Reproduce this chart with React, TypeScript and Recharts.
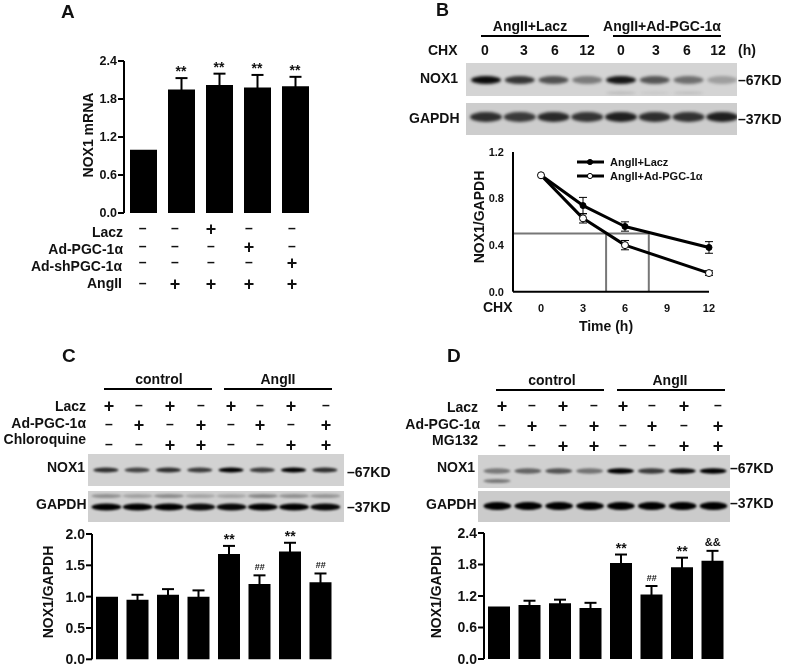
import React from "react";
import { ComposedChart, Bar, Line, XAxis, YAxis, ErrorBar, LabelList, ReferenceLine, BarChart } from "recharts";

const FONT = '"Liberation Sans", Arial, sans-serif';

// Panel A
const aGroups = ["1", "2", "3", "4", "5"];
const aValues = [1.0, 1.95, 2.02, 1.98, 2.0];
const aErrors = [0, 0.18, 0.18, 0.2, 0.15];
const aMarks = [null, "**", "**", "**", "**"];
const aTicks = [0, 0.6, 1.2, 1.8, 2.4];
const aRowLabels = ["Lacz", "Ad-PGC-1α", "Ad-shPGC-1α", "AngII"];
const aSigns = ["--+--", "---+-", "----+", "-++++"];

// Panel B
const bHours = [0, 3, 6, 12];
const bLacz = [1.0, 0.74, 0.56, 0.38];
const bLaczErr = [0, 0.07, 0.04, 0.05];
const bAd = [1.0, 0.63, 0.4, 0.16];
const bAdErr = [0, 0.04, 0.04, 0.02];
const bXTicks = [0, 3, 6, 9, 12];
const bYTicks = [0, 0.4, 0.8, 1.2];
const bHalfLevel = 0.5;
const bHalfLives = [4.65, 7.7];
const bLaneLabels = ["0", "3", "6", "12", "0", "3", "6", "12"];
const bNox = [0.95, 0.75, 0.62, 0.42, 0.9, 0.6, 0.48, 0.25];
const bNoxLower = [0, 0, 0, 0, 0.12, 0.06, 0.1, 0];
const bGapdh = [0.78, 0.72, 0.8, 0.75, 0.85, 0.78, 0.76, 0.85];

// Panel C
const cValues = [1.0, 0.95, 1.03, 1.0, 1.68, 1.2, 1.72, 1.23];
const cErrors = [0, 0.08, 0.09, 0.1, 0.13, 0.14, 0.14, 0.14];
const cMarks = [null, null, null, null, "**", "##", "**", "##"];
const cTicks = [0, 0.5, 1.0, 1.5, 2.0];
const cRowLabels = ["Lacz", "Ad-PGC-1α", "Chloroquine"];
const cSigns = ["+-+-+-+-", "-+-+-+-+", "--++--++"];
const cNox = [0.78, 0.68, 0.78, 0.72, 1, 0.72, 1, 0.78];
const cGapdh = [1, 1, 1, 0.95, 0.97, 1, 1, 0.97];
const cGapdhUpper = [0.3, 0.22, 0.32, 0.2, 0.2, 0.35, 0.3, 0.28];

// Panel D
const dValues = [1.0, 1.03, 1.06, 0.97, 1.83, 1.23, 1.75, 1.87];
const dErrors = [0, 0.08, 0.07, 0.1, 0.16, 0.16, 0.18, 0.19];
const dMarks = [null, null, null, null, "**", "##", "**", "&&"];
const dTicks = [0, 0.6, 1.2, 1.8, 2.4];
const dRowLabels = ["Lacz", "Ad-PGC-1α", "MG132"];
const dSigns = cSigns;
const dNox = [0.42, 0.52, 0.6, 0.45, 1, 0.72, 0.95, 1];
const dNoxLower = [0.42, 0, 0, 0, 0, 0, 0, 0];
const dGapdh = [1, 1, 1, 1, 1, 1, 1, 1];

const table = (vals: number[], errs: number[], marks: (string | null)[]) =>
  vals.map((value, i) => ({
    name: String(i),
    value,
    err: errs[i],
    top: marks[i] ? value + errs[i] : null,
    mark: marks[i],
  }));

const lineData = bHours.map((hour, i) => ({
  hour,
  lacz: bLacz[i],
  laczErr: bLaczErr[i],
  ad: bAd[i],
  adErr: bAdErr[i],
}));

const markStyle: Record<string, { size: number; lift: number }> = {
  "**": { size: 14, lift: 2 },
  "##": { size: 9, lift: 5 },
  "&&": { size: 11, lift: 5 },
};

const renderMark = (p: any) => {
  const st = markStyle[p.value];
  if (!st) return null;
  return (
    <text
      x={p.x + (p.width || 0) / 2}
      y={p.y - st.lift}
      textAnchor="middle"
      fill="#111"
      fontSize={st.size}
      fontWeight={700}
      fontFamily={FONT}
    >
      {p.value}
    </text>
  );
};

function BarPanel({ left, top, plotW, plotH, yMax, ticks, data, barSize, fontSize, tickFmt }: any) {
  const yw = 44;
  return (
    <div style={{ position: "absolute", left: left - yw, top: top - 10 }}>
      <ComposedChart
        width={yw + plotW + 2}
        height={plotH + 22}
        data={data}
        margin={{ top: 10, right: 2, bottom: 12, left: 0 }}
      >
        <XAxis dataKey="name" height={0} tick={false} tickLine={false} axisLine={{ stroke: "#000", strokeWidth: 2 }} />
        <YAxis
          width={yw}
          domain={[0, yMax]}
          ticks={ticks}
          interval={0}
          tickFormatter={tickFmt}
          tickSize={6}
          tickMargin={1}
          axisLine={{ stroke: "#000", strokeWidth: 2 }}
          tickLine={{ stroke: "#000", strokeWidth: 2 }}
          tick={{ fill: "#111", fontSize, fontWeight: 700, fontFamily: FONT }}
        />
        <Bar dataKey="value" fill="#000" barSize={barSize} isAnimationActive={false}>
          <ErrorBar dataKey="err" direction="y" width={6} stroke="#000" strokeWidth={2} isAnimationActive={false} />
        </Bar>
        <Line dataKey="top" stroke="none" dot={false} activeDot={false} isAnimationActive={false} legendType="none">
          <LabelList dataKey="mark" content={renderMark} />
        </Line>
      </ComposedChart>
    </div>
  );
}

function Blot({ left, top, w, h, bg, marginL, marginR, cy, ry, barW, blur = 1.2, strength, second, secondCy, secondRy }: any) {
  const data = strength.map((s: number, i: number) => ({ lane: String(i), s, t: second ? second[i] : 0 }));
  const shape = (p: any) => (
    <g style={{ filter: `blur(${blur}px)` }}>
      <ellipse cx={p.x + p.width / 2} cy={cy} rx={p.width / 2} ry={ry} fill={`rgba(0,0,0,${p.payload.s})`} />
      {p.payload.t > 0 && (
        <ellipse cx={p.x + p.width / 2} cy={secondCy} rx={p.width / 2} ry={secondRy || 2} fill={`rgba(0,0,0,${p.payload.t})`} />
      )}
    </g>
  );
  return (
    <div style={{ position: "absolute", left, top, width: w, height: h, background: bg, overflow: "hidden" }}>
      <BarChart width={w} height={h} data={data} margin={{ top: 0, right: marginR, bottom: 0, left: marginL }}>
        <XAxis dataKey="lane" hide />
        <YAxis hide domain={[0, 1]} />
        <Bar dataKey="s" barSize={barW} shape={shape} isAnimationActive={false} />
      </BarChart>
    </div>
  );
}

const T = ({ x, y, s = 14, a = "start", rot, children, w = 700 }: any) => (
  <text
    x={x}
    y={y}
    fontSize={s}
    fontWeight={w}
    textAnchor={a}
    fill="#111"
    fontFamily={FONT}
    transform={rot ? `rotate(${rot} ${x} ${y})` : undefined}
  >
    {children}
  </text>
);

const L = ({ x1, x2, y }: any) => <line x1={x1} x2={x2} y1={y} y2={y} stroke="#000" strokeWidth={2} />;

function Signs({ rows, cols, ys }: { rows: string[]; cols: number[]; ys: number[] }) {
  return (
    <>
      {rows.map((row, r) =>
        row.split("").map((c, i) =>
          c === "+" ? (
            <T key={`${r}-${i}`} x={cols[i]} y={ys[r] + 6} s={18} a="middle">+</T>
          ) : (
            <T key={`${r}-${i}`} x={cols[i]} y={ys[r] + 4} s={14} a="middle">–</T>
          )
        )
      )}
    </>
  );
}

function LineSwatch({ y, fill }: { y: number; fill: string }) {
  return (
    <>
      <line x1={577} x2={604} y1={y} y2={y} stroke="#000" strokeWidth={3} />
      <circle cx={590} cy={y} r={2.6} fill={fill} stroke="#000" strokeWidth={1} />
    </>
  );
}

export default function App() {
  const fmt = (v: number) => v.toFixed(1);
  return (
    <div
      style={{
        position: "absolute",
        left: 0,
        top: 0,
        width: 785,
        height: 667,
        background: "#fff",
        overflow: "hidden",
        filter: "blur(0.35px)",
      }}
    >
      <BarPanel left={123.5} top={61} plotW={190} plotH={152} yMax={2.4} ticks={aTicks}
        data={table(aValues, aErrors, aMarks)} barSize={27} fontSize={12.5} tickFmt={fmt} />
      <BarPanel left={91.7} top={534} plotW={244} plotH={125.3} yMax={2} ticks={cTicks}
        data={table(cValues, cErrors, cMarks)} barSize={22} fontSize={14} tickFmt={fmt} />
      <BarPanel left={484} top={533.3} plotW={244} plotH={126} yMax={2.4} ticks={dTicks}
        data={table(dValues, dErrors, dMarks)} barSize={22} fontSize={14} tickFmt={fmt} />

      {/* Panel B line chart */}
      <div style={{ position: "absolute", left: 513 - 34, top: 152.3 - 10 }}>
        <ComposedChart
          width={34 + 196 + 12}
          height={139.7 + 10 + 26}
          data={lineData}
          margin={{ top: 10, right: 12, bottom: 0, left: 0 }}
        >
          <XAxis
            dataKey="hour"
            type="number"
            domain={[-2, 12]}
            ticks={bXTicks}
            interval={0}
            height={26}
            tickLine={false}
            tickMargin={7}
            axisLine={{ stroke: "#000", strokeWidth: 2 }}
            tick={{ fill: "#111", fontSize: 11, fontWeight: 700, fontFamily: FONT }}
          />
          <YAxis
            width={34}
            domain={[0, 1.2]}
            ticks={bYTicks}
            interval={0}
            tickFormatter={fmt}
            tickLine={false}
            tickMargin={3}
            axisLine={{ stroke: "#000", strokeWidth: 2 }}
            tick={{ fill: "#111", fontSize: 11, fontWeight: 700, fontFamily: FONT }}
          />
          <ReferenceLine segment={[{ x: -2, y: bHalfLevel }, { x: bHalfLives[1], y: bHalfLevel }]} stroke="#777" strokeWidth={2} />
          <ReferenceLine segment={[{ x: bHalfLives[0], y: 0 }, { x: bHalfLives[0], y: bHalfLevel }]} stroke="#777" strokeWidth={2} />
          <ReferenceLine segment={[{ x: bHalfLives[1], y: 0 }, { x: bHalfLives[1], y: bHalfLevel }]} stroke="#777" strokeWidth={2} />
          <Line
            dataKey="lacz"
            type="linear"
            stroke="#000"
            strokeWidth={3}
            strokeLinejoin="round"
            dot={{ r: 3, fill: "#000", stroke: "#000", strokeWidth: 1 }}
            isAnimationActive={false}
          >
            <ErrorBar dataKey="laczErr" direction="y" width={4} stroke="#000" strokeWidth={1} isAnimationActive={false} />
          </Line>
          <Line
            dataKey="ad"
            type="linear"
            stroke="#000"
            strokeWidth={3}
            strokeLinejoin="round"
            dot={{ r: 3.5, fill: "#fff", stroke: "#000", strokeWidth: 1 }}
            isAnimationActive={false}
          >
            <ErrorBar dataKey="adErr" direction="y" width={4} stroke="#000" strokeWidth={1} isAnimationActive={false} />
          </Line>
        </ComposedChart>
      </div>

      {/* Blots */}
      <Blot left={466} top={63} w={271} h={33} bg="#d4d4d4" marginL={3} marginR={-2} cy={17} ry={4} barW={30} blur={1.6}
        strength={bNox} second={bNoxLower} secondCy={30} secondRy={1.5} />
      <Blot left={466} top={103} w={271} h={32} bg="#cdcdcd" marginL={3} marginR={-2} cy={14} ry={5} barW={32} blur={1.6}
        strength={bGapdh} />
      <Blot left={88} top={454} w={256} h={32} bg="#d2d2d2" marginL={2.4} marginR={3.4} cy={16} ry={2.6} barW={25}
        strength={cNox} />
      <Blot left={88} top={491} w={256} h={31} bg="#cfcfcf" marginL={2.4} marginR={3.4} cy={16} ry={3.5} barW={30} blur={0.9}
        strength={cGapdh} second={cGapdhUpper} secondCy={5} secondRy={2} />
      <Blot left={478} top={455} w={252} h={33} bg="#d0d0d0" marginL={3.5} marginR={1.5} cy={16} ry={2.8} barW={27}
        strength={dNox} second={dNoxLower} secondCy={26} secondRy={2} />
      <Blot left={478} top={491} w={252} h={31} bg="#cbcbcb" marginL={3.5} marginR={1.5} cy={15} ry={4} barW={33} blur={0.9}
        strength={dGapdh} />

      {/* Text overlay */}
      <svg width={785} height={667} style={{ position: "absolute", left: 0, top: 0, pointerEvents: "none" }}>
        {/* A */}
        <T x={61} y={18} s={19}>A</T>
        <T x={93} y={135} s={14} a="middle" rot={-90}>NOX1 mRNA</T>
        <T x={123} y={237} a="end">{aRowLabels[0]}</T>
        <T x={123} y={254} a="end">{aRowLabels[1]}</T>
        <T x={122} y={271} a="end">{aRowLabels[2]}</T>
        <T x={122} y={288} a="end">{aRowLabels[3]}</T>
        <Signs rows={aSigns} cols={[142.7, 175, 211, 249, 292]} ys={[229, 247, 263, 284]} />

        {/* B */}
        <T x={436} y={16} s={18}>B</T>
        <T x={530} y={31} a="middle">AngII+Lacz</T>
        <T x={662} y={31} a="middle">AngII+Ad-PGC-1α</T>
        <L x1={481} x2={589} y={36} />
        <L x1={613} x2={721} y={36} />
        <T x={428} y={55}>CHX</T>
        {bLaneLabels.map((t, i) => (
          <T key={i} x={[485, 524, 555, 587, 621, 656, 687, 718][i]} y={55} a="middle">{t}</T>
        ))}
        <T x={738} y={55}>(h)</T>
        <T x={420} y={83}>NOX1</T>
        <T x={409} y={123}>GAPDH</T>
        <T x={738} y={85}>–67KD</T>
        <T x={738} y={124}>–37KD</T>
        <T x={484} y={217} a="middle" rot={-90}>NOX1/GAPDH</T>
        <T x={483} y={312}>CHX</T>
        <T x={606} y={331} a="middle">Time (h)</T>
        <LineSwatch y={162} fill="#000" />
        <LineSwatch y={176} fill="#fff" />
        <T x={610} y={166} s={11}>AngII+Lacz</T>
        <T x={610} y={180} s={11}>AngII+Ad-PGC-1α</T>

        {/* C */}
        <T x={62} y={362} s={19}>C</T>
        <T x={159} y={384} a="middle">control</T>
        <T x={278} y={384} a="middle">AngII</T>
        <L x1={104} x2={212} y={389} />
        <L x1={224} x2={332} y={389} />
        <T x={86} y={411} a="end">{cRowLabels[0]}</T>
        <T x={86} y={428} a="end">{cRowLabels[1]}</T>
        <T x={86} y={444} a="end">{cRowLabels[2]}</T>
        <Signs rows={cSigns} cols={[109, 139, 170, 201, 231, 260, 291, 326]} ys={[406, 425, 445]} />
        <T x={47} y={472}>NOX1</T>
        <T x={36} y={509}>GAPDH</T>
        <T x={347} y={477}>–67KD</T>
        <T x={347} y={512}>–37KD</T>
        <T x={53} y={592} a="middle" rot={-90}>NOX1/GAPDH</T>

        {/* D */}
        <T x={447} y={362} s={19}>D</T>
        <T x={552} y={385} a="middle">control</T>
        <T x={670} y={385} a="middle">AngII</T>
        <L x1={496} x2={604} y={390} />
        <L x1={617} x2={725} y={390} />
        <T x={478} y={412} a="end">{dRowLabels[0]}</T>
        <T x={480} y={429} a="end">{dRowLabels[1]}</T>
        <T x={478} y={445} a="end">{dRowLabels[2]}</T>
        <Signs rows={dSigns} cols={[502, 532, 563, 594, 623, 652, 684, 718]} ys={[406, 426, 446]} />
        <T x={437} y={472}>NOX1</T>
        <T x={426} y={509}>GAPDH</T>
        <T x={730} y={473}>–67KD</T>
        <T x={730} y={508}>–37KD</T>
        <T x={441} y={592} a="middle" rot={-90}>NOX1/GAPDH</T>
      </svg>
    </div>
  );
}
